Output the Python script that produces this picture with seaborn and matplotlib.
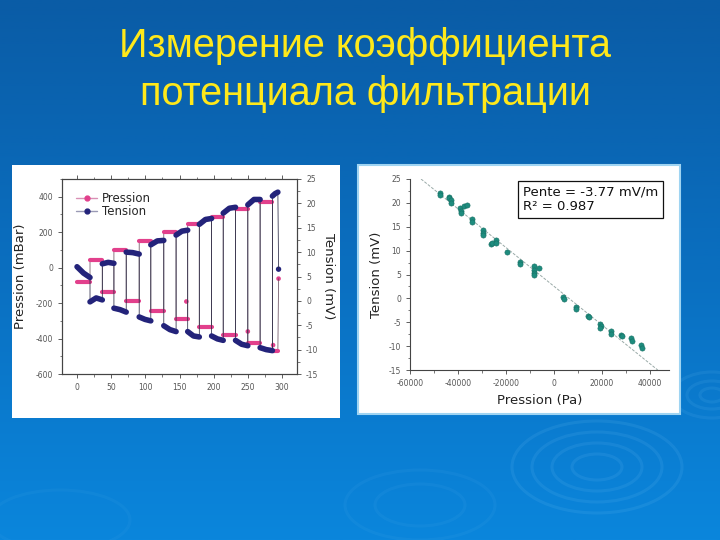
import numpy as np
import pandas as pd
import matplotlib
matplotlib.use("Agg")
import matplotlib.pyplot as plt
import seaborn as sns
from matplotlib.patches import Rectangle, Ellipse
from matplotlib.lines import Line2D
from matplotlib.ticker import MultipleLocator
from matplotlib.colors import LinearSegmentedColormap

# ---------------- data ----------------
title_lines = ["Измерение коэффициента", "потенциала фильтрации"]

# left chart: time steps (s)
seg_edges = [0, 19, 37, 54, 72, 91, 108, 127, 145, 162, 179, 197, 214, 232, 250, 268, 286, 294]
pression_levels = [-83, 43, -137, 98, -190, 150, -242, 200, -289, 244, -336, 285, -379, 328, -426, 368, -469]
tension_start = [7.0, -0.2, 7.6, -1.5, 10.0, -3.3, 11.5, -5.1, 13.5, -6.3, 15.7, -7.2, 18.0, -8.1, 19.7, -9.6, 21.5]
tension_mid = [5.7, 0.6, 7.9, -1.8, 9.9, -3.8, 12.3, -5.9, 14.3, -7.2, 16.7, -7.8, 19.0, -8.9, 20.8, -10.0, 22.0]
tension_end = [4.8, 0.2, 7.7, -2.3, 9.6, -4.1, 12.4, -6.3, 14.5, -7.4, 16.9, -8.1, 19.2, -9.2, 20.8, -10.2, 22.3]
pression_final = (295, -62)
tension_final = (295, 6.5)
pression_extra_t = [160, 250, 287]
pression_extra_v = [-191, -360, -437]

# right chart: tension vs pression
scatter_p = [-47400, -47300, -43900, -43800, -42800, -42700, -39000, -38800, -38600, -37600, -36200,
             -34100, -34000, -29500, -29500, -29400, -26400, -25600, -24300, -24200, -19400, -14300,
             -14200, -8500, -8400, -8300, -8200, -6200, 4000, 4100, 9200, 9300, 14400, 14500, 19400,
             19500, 19400, 23900, 24000, 28100, 28200, 32300, 32400, 36500, 36600]
scatter_t = [22.0, 21.6, 21.3, 21.0, 20.5, 20.0, 19.0, 18.4, 17.9, 19.3, 19.5,
             16.7, 16.0, 14.3, 13.7, 13.3, 11.3, 11.6, 12.2, 11.7, 9.7, 7.6,
             7.3, 6.7, 6.0, 5.3, 4.8, 6.4, 0.2, -0.1, -1.9, -2.2, -3.6, -4.0, -5.3,
             -5.8, -6.3, -6.8, -7.4, -7.6, -7.9, -8.4, -9.0, -9.8, -10.3]
fit_x = [-55400, 43300]
fit_y = [25.0, -15.0]
fit_text = "Pente = -3.77 mV/m\nR² = 0.987"

# ---------------- style ----------------
sns.set_theme(style="ticks")
plt.rcParams['font.family'] = ['DejaVu Sans']
plt.rcParams['axes.unicode_minus'] = False
PINK = "#e2408c"
NAVY = "#23237a"
TEAL = "#1e8c7e"
TICKC = "#555555"

fig = plt.figure(figsize=(7.2, 5.4), dpi=100)

# background gradient
bg = fig.add_axes([0, 0, 1, 1], zorder=-10)
grad = np.linspace(0, 1, 256)[:, None]
cmap = LinearSegmentedColormap.from_list("bg", ["#0a5ca6", "#0a6fc0", "#0b86dc"])
bg.imshow(grad, aspect="auto", cmap=cmap, extent=[0, 720, 540, 0])
bg.set_xlim(0, 720)
bg.set_ylim(540, 0)
bg.axis("off")
for (cx, cy, w, h, a) in [(597, 467, 170, 92, 0.14), (597, 467, 130, 70, 0.14), (597, 467, 90, 48, 0.14),
                          (597, 467, 50, 26, 0.14), (712, 395, 80, 46, 0.12), (712, 395, 50, 28, 0.12),
                          (712, 395, 24, 14, 0.12), (420, 505, 150, 70, 0.08), (420, 505, 90, 42, 0.08),
                          (60, 520, 140, 60, 0.07)]:
    bg.add_patch(Ellipse((cx, cy), w, h, fill=False, ec="#6cbcf2", lw=2.2, alpha=a))

# title
for i, line in enumerate(title_lines):
    fig.text(365 / 720, 1 - (46 + i * 48) / 540, line, ha="center", va="center",
             color="#ffe81a", fontsize=28.5, family=["Liberation Sans", "DejaVu Sans"])

# white panels
fig.patches.append(Rectangle((12 / 720, 1 - 418 / 540), 328 / 720, 253 / 540,
                             transform=fig.transFigure, fc="white", ec="none", zorder=-5))
fig.patches.append(Rectangle((358 / 720, 1 - 414 / 540), 322 / 720, 249 / 540,
                             transform=fig.transFigure, fc="white", ec="#9fd4f2", lw=1.5, zorder=-5))

# ---------------- left chart ----------------
ax = fig.add_axes([62 / 720, 1 - 374 / 540, 235 / 720, 195 / 540])
ax.set_facecolor("none")
ax2 = ax.twinx()

# pression series
p_rows = []
for k, lev in enumerate(pression_levels):
    p_rows += [(seg_edges[k], lev, k), (seg_edges[k + 1], lev, k)]
dfp = pd.DataFrame(p_rows, columns=["t", "v", "seg"])
line_p = pd.concat([dfp, pd.DataFrame([(pression_final[0], pression_final[1], -1)],
                                      columns=["t", "v", "seg"])], ignore_index=True)
sns.lineplot(x=line_p["t"].values, y=line_p["v"].values, sort=False, estimator=None,
             color="#6a5060", lw=0.55, ax=ax, legend=False)
sns.lineplot(data=dfp, x="t", y="v", units="seg", estimator=None, color=PINK, lw=3.0,
             solid_capstyle="round", ax=ax, legend=False)
sns.scatterplot(x=pression_extra_t + [pression_final[0]], y=pression_extra_v + [pression_final[1]],
                color=PINK, s=11, edgecolor="none", ax=ax, legend=False)

# tension series
t_rows = []
for k in range(len(tension_start)):
    t0, t1 = seg_edges[k], seg_edges[k + 1]
    t_rows += [(t0, tension_start[k], k), ((t0 + t1) / 2, tension_mid[k], k), (t1, tension_end[k], k)]
dft = pd.DataFrame(t_rows, columns=["t", "v", "seg"])
line_t = pd.concat([dft, pd.DataFrame([(tension_final[0], tension_final[1], -1)],
                                      columns=["t", "v", "seg"])], ignore_index=True)
sns.lineplot(x=line_t["t"].values, y=line_t["v"].values, sort=False, estimator=None,
             color="#2a2a45", lw=0.55, ax=ax2, legend=False)
sns.lineplot(data=dft, x="t", y="v", units="seg", estimator=None, color=NAVY, lw=4.0,
             solid_capstyle="round", ax=ax2, legend=False)
sns.scatterplot(x=[tension_final[0]], y=[tension_final[1]], color=NAVY, s=15,
                edgecolor="none", ax=ax2, legend=False)

ax.set_xlim(-22, 322)
ax.set_ylim(-600, 500)
ax2.set_ylim(-15, 25)
ax.xaxis.set_major_locator(MultipleLocator(50))
ax.xaxis.set_minor_locator(MultipleLocator(25))
ax.set_yticks([-600, -400, -200, 0, 200, 400])
ax.yaxis.set_minor_locator(MultipleLocator(100))
ax2.yaxis.set_major_locator(MultipleLocator(5))
ax2.yaxis.set_minor_locator(MultipleLocator(2.5))
for a in (ax, ax2):
    for s in a.spines.values():
        s.set_color("#444444")
        s.set_linewidth(0.8)
        s.set_visible(True)
ax.tick_params(axis="both", which="major", labelsize=5.5, labelcolor=TICKC, color="#444444",
               length=3, width=0.6, direction="out")
ax.tick_params(axis="both", which="minor", length=1.8, width=0.5, color="#444444", direction="out")
ax.tick_params(axis="x", which="both", top=True)
ax2.tick_params(axis="y", which="major", labelsize=5.5, labelcolor=TICKC, color="#444444",
                length=3, width=0.6, direction="out")
ax2.tick_params(axis="y", which="minor", length=1.8, width=0.5, color="#444444", direction="out")
ax.set_xlabel("")
ax.set_ylabel("Pression (mBar)", fontsize=9.5, color="#222222", labelpad=6)
ax2.set_ylabel("Tension (mV)", fontsize=9.5, color="#222222", rotation=270, labelpad=12)

handles = [Line2D([], [], color="#d990b5", lw=1, marker="o", ms=3.5, mfc=PINK, mec=PINK),
           Line2D([], [], color="#9a9ab5", lw=1, marker="o", ms=3.5, mfc=NAVY, mec=NAVY)]
ax.legend(handles, ["Pression", "Tension"], loc="upper left", bbox_to_anchor=(0.03, 0.97),
          frameon=False, fontsize=8.5, handlelength=1.8, handletextpad=0.4, labelspacing=0.0,
          borderaxespad=0.2)

# ---------------- right chart ----------------
ax3 = fig.add_axes([410 / 720, 1 - 370 / 540, 259 / 720, 191 / 540])
ax3.set_facecolor("none")
ax3.plot(fit_x, fit_y, color="#9aaaa8", lw=0.7, ls=(0, (3, 1.5)), zorder=1)
sns.scatterplot(x=scatter_p, y=scatter_t, color=TEAL, s=14, edgecolor="#156e63", linewidth=0.4,
                ax=ax3, legend=False, zorder=3)
ax3.set_xlim(-60000, 48000)
ax3.set_ylim(-15, 25)
ax3.set_xticks([-60000, -40000, -20000, 0, 20000, 40000])
ax3.xaxis.set_minor_locator(MultipleLocator(10000))
ax3.yaxis.set_major_locator(MultipleLocator(5))
ax3.yaxis.set_minor_locator(MultipleLocator(2.5))
ax3.spines["top"].set_visible(False)
ax3.spines["right"].set_visible(False)
for s in ("left", "bottom"):
    ax3.spines[s].set_color("#444444")
    ax3.spines[s].set_linewidth(0.8)
ax3.tick_params(axis="both", which="major", labelsize=5.5, labelcolor=TICKC, color="#444444",
                length=3, width=0.6, direction="out")
ax3.tick_params(axis="both", which="minor", length=1.8, width=0.5, color="#444444", direction="out")
ax3.set_xlabel("Pression (Pa)", fontsize=9.5, color="#222222", labelpad=4)
ax3.set_ylabel("Tension (mV)", fontsize=9.5, color="#222222", labelpad=4)
ax3.text(0.435, 0.965, fit_text, transform=ax3.transAxes, ha="left", va="top", fontsize=9.5,
         color="#111111", linespacing=1.15,
         bbox=dict(boxstyle="square,pad=0.35", fc="white", ec="#111111", lw=0.9))

fig.savefig("out.png", dpi=100)
